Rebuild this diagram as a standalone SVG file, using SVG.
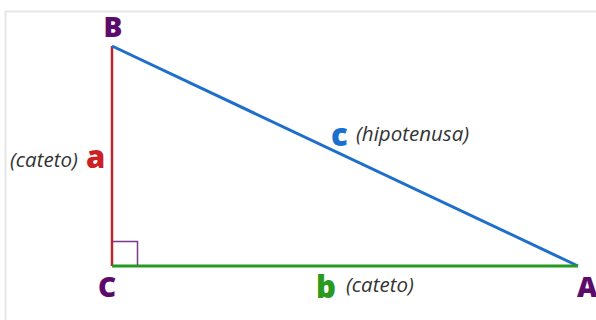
<svg xmlns="http://www.w3.org/2000/svg" width="596" height="320" viewBox="0 0 596 320">
<style>
.v{font-family:"Open Sans","DejaVu Sans",sans-serif;font-weight:800;fill:#5c0b6b;font-size:28px}
.lbl{font-family:"Open Sans","DejaVu Sans",sans-serif;font-style:italic;fill:#333;font-size:20.5px}
.sym{font-family:"Open Sans","DejaVu Sans",sans-serif;font-weight:800;font-size:31px}
</style>
<rect x="0" y="0" width="596" height="320" fill="#fff"/>
<path d="M5.5 320 V11.5 H596" fill="none" stroke="#e6e6e6" stroke-width="2"/>
<g id="connectors">
<line x1="112" y1="46" x2="112" y2="266" stroke="#b5272d" stroke-width="2.5"/>
<line x1="112" y1="46" x2="578" y2="266" stroke="#1e6fcc" stroke-width="3"/>
<line x1="112" y1="266" x2="578" y2="266" stroke="#249a1e" stroke-width="3"/>
<polyline points="113,241.5 137.5,241.5 137.5,265" fill="none" stroke="#7b3a8c" stroke-width="1.5"/>
</g>
<g id="B"><text class="v" x="113" y="37" text-anchor="middle">B</text></g>
<g id="C"><text class="v" x="107" y="297" text-anchor="middle">C</text></g>
<g id="A"><text class="v" x="577" y="297">A</text></g>
<g id="side-a"><text class="lbl" x="10" y="167">(cateto)</text><text class="sym" x="86" y="168" fill="#cc1f26">a</text></g>
<g id="side-c"><text class="sym" x="331" y="146" fill="#1a6fd0" font-size="27">c</text><text class="lbl" x="356" y="141">(hipotenusa)</text></g>
<g id="side-b"><text class="sym" x="316" y="298" fill="#2a9a1e">b</text><text class="lbl" x="346" y="292">(cateto)</text></g>
</svg>
